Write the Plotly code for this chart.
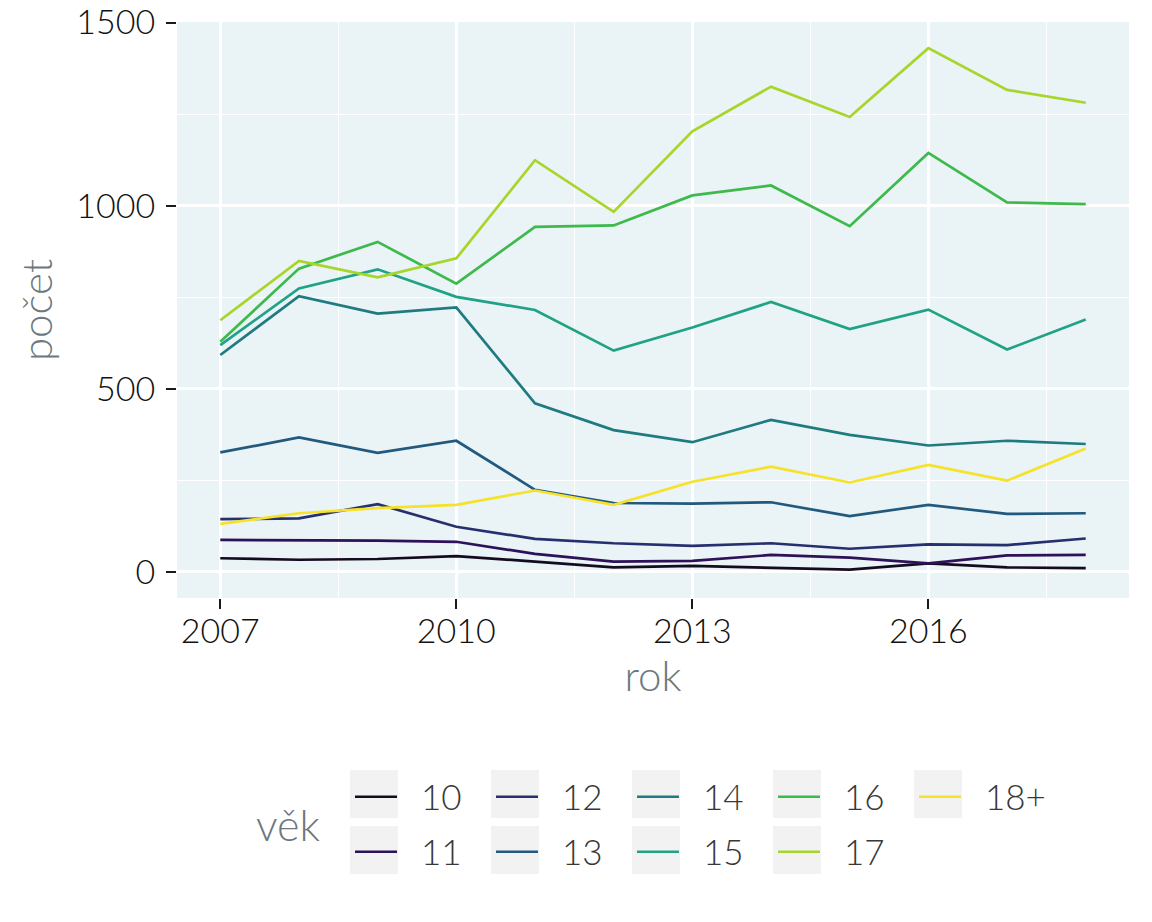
import plotly.graph_objects as go

years = [2007, 2008, 2009, 2010, 2011, 2012, 2013, 2014, 2015, 2016, 2017, 2018]

age_groups = ["10", "11", "12", "13", "14", "15", "16", "17", "18+"]

v10 = [37, 33, 35, 43, 28, 12, 16, 10, 6, 23, 12, 10]
v11 = [87, 87, 85, 82, 49, 28, 30, 46, 39, 23, 45, 46]
v12 = [144, 146, 185, 123, 90, 78, 71, 78, 63, 75, 73, 91]
v13 = [326, 367, 325, 358, 224, 188, 186, 190, 152, 183, 158, 160]
v14 = [592, 753, 705, 722, 460, 387, 354, 415, 374, 345, 358, 349]
v15 = [619, 774, 826, 751, 715, 604, 667, 737, 663, 716, 607, 689]
v16 = [628, 828, 901, 787, 942, 946, 1028, 1055, 944, 1144, 1009, 1004]
v17 = [687, 849, 804, 856, 1124, 983, 1203, 1325, 1242, 1430, 1316, 1281]
v18 = [131, 160, 174, 183, 222, 183, 246, 287, 244, 292, 249, 337]

series = [v10, v11, v12, v13, v14, v15, v16, v17, v18]

colors = ["#150b1f", "#2d1159", "#27306e", "#22597f", "#1f7b80",
          "#20a285", "#3dba4b", "#a7d52a", "#f6e22b"]

FONT = "Lato"
# the page body has an 8px margin, so the figure is a bit smaller and all
# positions below are in figure pixels (screen pixels minus 8)
OFF = 8
W, H = 1152 - OFF, 922 - OFF
L, R, T, B = 177 - OFF, 1129 - OFF, 22 - OFF, 598 - OFF


def px(x):
    return (x - OFF - L) / (R - L)


def py(y):
    return (B - (y - OFF)) / (B - T)


fig = go.Figure()

for i, (name, vals, col) in enumerate(zip(age_groups, series, colors)):
    fig.add_trace(go.Scatter(
        x=years, y=vals, mode="lines",
        name="\u00a0\u00a0" + name,
        hovertemplate=name + ": %{y}<extra></extra>",
        line=dict(color=col, width=2.7),
        legend="legend" if i % 2 == 0 else "legend2",
    ))

# grey key boxes behind the legend symbols (ggplot style), screen px
col_x = [350, 491, 632, 773, 914]
row_y = [770, 826]
shapes = []
for i in range(len(age_groups)):
    cx = col_x[i // 2]
    ry = row_y[i % 2]
    shapes.append(dict(
        type="rect", xref="paper", yref="paper",
        x0=px(cx), x1=px(cx + 48), y0=py(ry), y1=py(ry + 48),
        fillcolor="#f2f2f2", line=dict(width=0), layer="below",
    ))

legend_common = dict(
    orientation="h", xref="container", yref="container",
    xanchor="left", yanchor="middle",
    entrywidth=84, entrywidthmode="pixels", itemwidth=42,
    bgcolor="rgba(0,0,0,0)", borderwidth=0,
    font=dict(family=FONT, size=35, color="#383838", weight=300),
    traceorder="normal",
)

fig.update_layout(
    width=W, height=H,
    margin=dict(l=L, r=W - R, t=T, b=H - B),
    paper_bgcolor="white",
    plot_bgcolor="#eaf3f6",
    font=dict(family=FONT),
    showlegend=True,
    legend=dict(legend_common, x=(350 - OFF) / W, y=1 - (797 - OFF) / H),
    legend2=dict(legend_common, x=(350 - OFF) / W, y=1 - (852 - OFF) / H),
    shapes=shapes,
    annotations=[dict(
        text="věk", xref="paper", yref="paper",
        x=px(254), y=py(824),
        xanchor="left", yanchor="middle", showarrow=False,
        font=dict(family=FONT, size=43, color="#6b7880", weight=300),
    )],
)

fig.update_xaxes(
    range=[2006.45, 2018.55], tick0=2007, dtick=3,
    showgrid=True, gridcolor="white", gridwidth=2.6,
    minor=dict(tick0=2007, dtick=1.5, showgrid=True, gridcolor="white", gridwidth=1.3),
    zeroline=False, showline=False, automargin=False,
    ticks="outside", ticklen=10, tickwidth=2, tickcolor="#1a1a1a",
    ticklabelstandoff=-7, ticklabeloverflow="allow",
    tickfont=dict(family=FONT, size=34, color="#111111", weight=300),
    title=dict(text="rok", font=dict(family=FONT, size=42, color="#6b7880", weight=300), standoff=6),
)
fig.update_yaxes(
    range=[-71.5, 1501.5], tickvals=[0, 500, 1000, 1500],
    showgrid=True, gridcolor="white", gridwidth=2.6,
    minor=dict(tickvals=[250, 750, 1250], showgrid=True, gridcolor="white", gridwidth=1.3),
    zeroline=False, showline=False, automargin=False,
    ticks="outside", ticklen=10, tickwidth=2, tickcolor="#1a1a1a",
    ticklabelstandoff=4, ticklabeloverflow="allow",
    tickfont=dict(family=FONT, size=34, color="#111111", weight=300),
    title=dict(text="počet", font=dict(family=FONT, size=42, color="#6b7880", weight=300), standoff=10),
)

fig.write_html("out.html")
